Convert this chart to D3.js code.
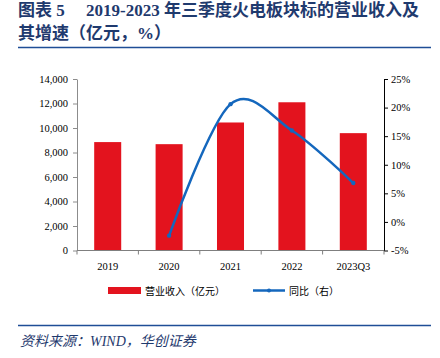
<!DOCTYPE html>
<html><head><meta charset="utf-8">
<script src="https://cdn.jsdelivr.net/npm/d3@7"></script>
<style>
body{margin:0;background:#fff;}
svg{display:block;}
</style></head>
<body>
<svg id="c" width="440" height="358"></svg>
<script>
const categories = ["2019","2020","2021","2022","2023Q3"];
const revenue = [8850, 8680, 10450, 12100, 9580];
const yoy = [null, -2.4, 20.6, 16.0, 6.8];
const leftTicks = [0,2000,4000,6000,8000,10000,12000,14000];
const rightTicks = [-5,0,5,10,15,20,25];

const svg = d3.select("#c");
const serif = "'Liberation Serif','Times New Roman',serif";
const cjk = "'Noto Sans CJK SC',sans-serif";
const navy = "#1f3a6e";

// title
const t1 = svg.append("text").attr("y",16).attr("fill",navy)
  .style("font-family",`${serif},${cjk}`).style("font-weight","bold").style("font-size","17px");
t1.append("tspan").attr("x",18).text("图表 5");
t1.append("tspan").attr("x",86).text("2019-2023 年三季度火电板块标的营业收入及");
svg.append("text").attr("x",18).attr("y",39).attr("fill",navy)
  .style("font-family",`${serif},${cjk}`).style("font-weight","bold").style("font-size","17px")
  .text("其增速（亿元，%）");
svg.append("line").attr("x1",18).attr("x2",431).attr("y1",47.5).attr("y2",47.5)
  .attr("stroke","#1f4e96").attr("stroke-width",1.5);
svg.append("line").attr("x1",18).attr("x2",431).attr("y1",325.5).attr("y2",325.5)
  .attr("stroke","#1f4e96").attr("stroke-width",1.5);
svg.append("text").attr("x",20).attr("y",346).attr("fill",navy)
  .style("font-family",`${serif},${cjk}`).style("font-style","italic").style("font-size","14px")
  .text("资料来源：WIND，华创证券");

const L = 77, R = 384, T = 79, B = 250.5;
const x = d3.scaleBand().domain(categories).range([L,R]).paddingInner(0.56).paddingOuter(0.28);
const yL = d3.scaleLinear().domain([0,14000]).range([B,T]);
const yR = d3.scaleLinear().domain([-5,25]).range([B,T]);

// bars
svg.append("g").selectAll("rect").data(categories).join("rect")
  .attr("x",d=>x(d)).attr("width",x.bandwidth())
  .attr("y",(d,i)=>yL(revenue[i])).attr("height",(d,i)=>B-yL(revenue[i]))
  .attr("fill","#e3131e");

// left axis
const gl = svg.append("g").attr("transform",`translate(${L},0)`)
  .call(d3.axisLeft(yL).tickValues(leftTicks).tickSize(4).tickSizeOuter(0).tickFormat(d3.format(",")));
gl.select(".domain").attr("stroke","#8c8c8c");
gl.selectAll(".tick line").attr("stroke","#8c8c8c");
gl.selectAll("text").style("font-family",serif).style("font-size","10.5px").attr("fill","#000").attr("dx","-2");

// right axis
const gr = svg.append("g").attr("transform",`translate(${R},0)`)
  .call(d3.axisRight(yR).tickValues(rightTicks).tickSize(4).tickSizeOuter(0).tickFormat(d=>d+"%"));
gr.select(".domain").attr("stroke","#000");
gr.selectAll(".tick line").attr("stroke","#000");
gr.selectAll("text").style("font-family",serif).style("font-size","10.5px").attr("fill","#000");

// x axis
const gx = svg.append("g").attr("transform",`translate(0,${B})`);
gx.append("line").attr("x1",L).attr("x2",R).attr("stroke","#7f7f7f").attr("stroke-width",1);
const step = (R-L)/categories.length;
gx.selectAll("line.t").data(d3.range(categories.length+1)).join("line").attr("class","t")
  .attr("x1",i=>L+i*step).attr("x2",i=>L+i*step).attr("y1",0).attr("y2",4).attr("stroke","#7f7f7f");
gx.selectAll("text").data(categories).join("text")
  .attr("x",d=>x(d)+x.bandwidth()/2).attr("y",19).attr("text-anchor","middle")
  .style("font-family",serif).style("font-size","10.5px").text(d=>d);

// line
const pts = categories.map((c,i)=>({c,v:yoy[i]})).filter(d=>d.v!==null);
const line = d3.line().x(d=>x(d.c)+x.bandwidth()/2).y(d=>yR(d.v)).curve(d3.curveCatmullRom.alpha(0));
svg.append("path").datum(pts).attr("d",line).attr("fill","none")
  .attr("stroke","#1467bd").attr("stroke-width",2.5);
svg.append("g").selectAll("circle").data(pts).join("circle")
  .attr("cx",d=>x(d.c)+x.bandwidth()/2).attr("cy",d=>yR(d.v)).attr("r",2.2).attr("fill","#1467bd");

// legend
const lg = svg.append("g");
lg.append("rect").attr("x",108).attr("y",287).attr("width",33).attr("height",7).attr("fill","#e3131e");
lg.append("text").attr("x",145).attr("y",295).style("font-family",cjk).style("font-size","10px").text("营业收入（亿元）");
lg.append("line").attr("x1",253).attr("x2",285).attr("y1",290.5).attr("y2",290.5).attr("stroke","#1467bd").attr("stroke-width",2.5);
lg.append("circle").attr("cx",269).attr("cy",290.5).attr("r",2).attr("fill","#1467bd");
lg.append("text").attr("x",289).attr("y",295).style("font-family",cjk).style("font-size","10px").text("同比（右）");
</script>
</body></html>
